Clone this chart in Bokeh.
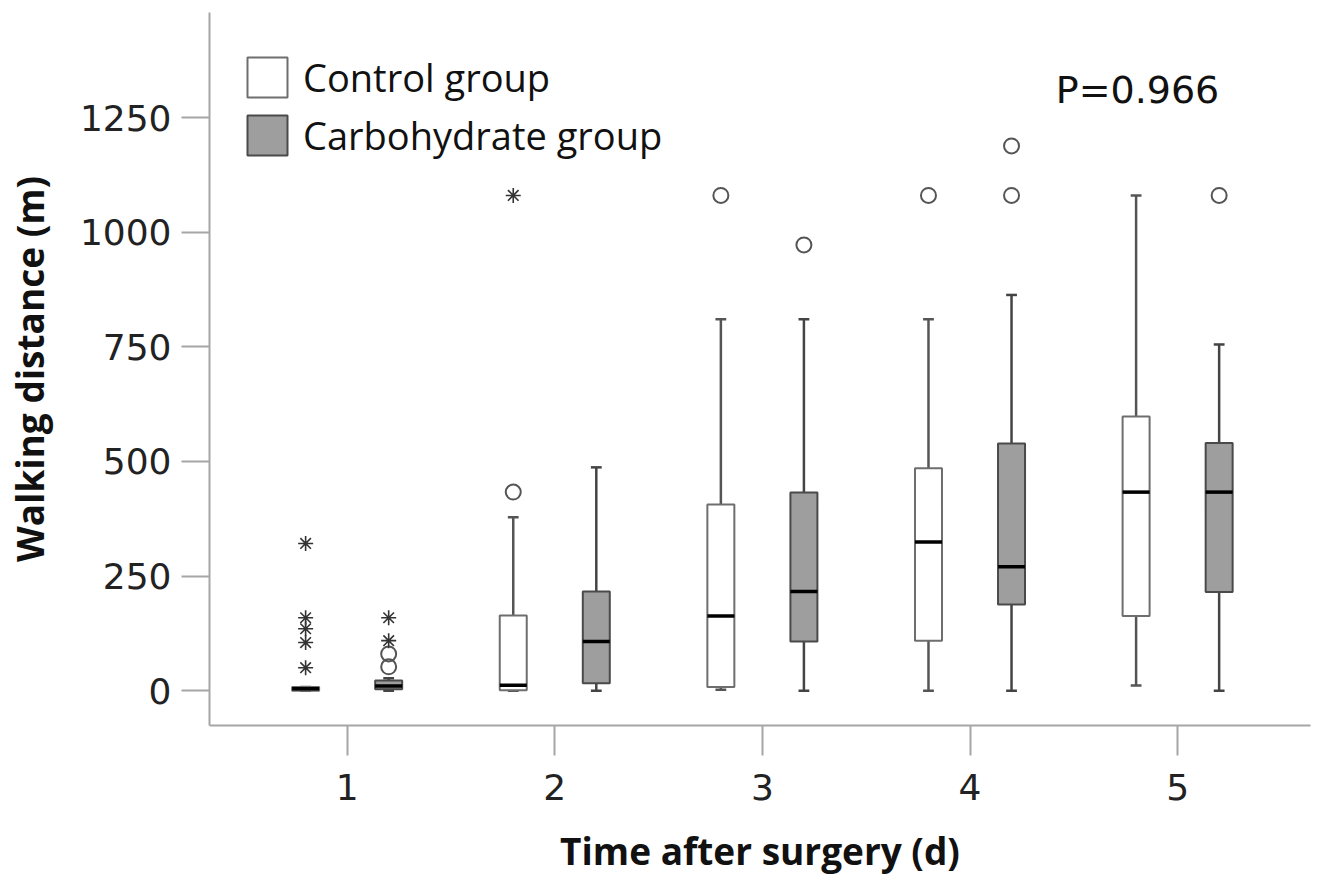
from bokeh.plotting import figure
from bokeh.models import Range1d, Legend, LegendItem, Label, FixedTicker
from bokeh.embed import file_html
from bokeh.resources import INLINE

# ---- data ----
days = [1, 2, 3, 4, 5]
ctrl_lo = [0, 0, 2, 0, 11]
ctrl_q1 = [0, 1, 8, 109, 163]
ctrl_med = [4, 12, 163, 324, 433]
ctrl_q3 = [8, 164, 406, 485, 598]
ctrl_hi = [8, 378, 810, 810, 1080]

carb_lo = [0, 0, 0, 0, 0]
carb_q1 = [3, 16, 107, 188, 215]
carb_med = [10, 107, 216, 270, 433]
carb_q3 = [22, 216, 432, 539, 540]
carb_hi = [27, 487, 810, 863, 755]

ctrl_circle_day = [2, 3, 4]
ctrl_circle_val = [433, 1080, 1080]
ctrl_star_day = [1, 1, 1, 1, 1, 2]
ctrl_star_val = [321, 159, 135, 105, 50, 1080]
carb_circle_day = [1, 1, 3, 4, 4, 5]
carb_circle_val = [80, 52, 972, 1080, 1188, 1080]
carb_star_day = [1, 1]
carb_star_val = [159, 109]

y_ticks = [0, 250, 500, 750, 1000, 1250]

OFFSET = 0.2
BOX_W = 0.13
CAP = 0.026

p = figure(width=1311, height=878, output_backend="svg", toolbar_location=None,
           x_range=Range1d(0.337, 5.64), y_range=Range1d(-76, 1479),
           min_border_left=207, min_border_right=1, min_border_top=12,
           min_border_bottom=153)
p.outline_line_color = None
p.grid.grid_line_color = None
p.background_fill_color = "white"

GRAY_FILL = "#9e9e9e"

def draw_group(xs, lo, q1, med, q3, hi, fill, edge, wcol):
    # whiskers
    p.segment(xs, q3, xs, hi, line_color=wcol, line_width=2.5)
    p.segment(xs, lo, xs, q1, line_color=wcol, line_width=2.5)
    p.segment([x - CAP for x in xs], hi, [x + CAP for x in xs], hi, line_color=wcol, line_width=2.5)
    p.segment([x - CAP for x in xs], lo, [x + CAP for x in xs], lo, line_color=wcol, line_width=2.5)
    r = p.vbar(x=xs, width=BOX_W, bottom=q1, top=q3, fill_color=fill,
               line_color=edge, line_width=2)
    p.segment([x - BOX_W / 2 for x in xs], med, [x + BOX_W / 2 for x in xs], med,
              line_color="black", line_width=3.5)
    return r

cx = [d - OFFSET for d in days]
gx = [d + OFFSET for d in days]
r_ctrl = draw_group(cx, ctrl_lo, ctrl_q1, ctrl_med, ctrl_q3, ctrl_hi, "white", "#6e6e6e", "#555555")
r_carb = draw_group(gx, carb_lo, carb_q1, carb_med, carb_q3, carb_hi, GRAY_FILL, "#4a4a4a", "#444444")

# outliers
p.scatter([d - OFFSET for d in ctrl_circle_day], ctrl_circle_val, marker="circle", size=15,
          fill_color=None, line_color="#555555", line_width=2)
p.scatter([d + OFFSET for d in carb_circle_day], carb_circle_val, marker="circle", size=15,
          fill_color=None, line_color="#555555", line_width=2)
p.scatter([d - OFFSET for d in ctrl_star_day], ctrl_star_val, marker="asterisk", size=15,
          line_color="#333333", line_width=1.6)
p.scatter([d + OFFSET for d in carb_star_day], carb_star_val, marker="asterisk", size=15,
          line_color="#333333", line_width=1.6)

# axes
AX = "#a6a6a6"
p.xaxis.ticker = FixedTicker(ticks=days)
p.yaxis.ticker = FixedTicker(ticks=y_ticks)
for ax in (p.xaxis[0], p.yaxis[0]):
    ax.axis_line_color = AX
    ax.axis_line_width = 2
    ax.major_tick_line_color = AX
    ax.major_tick_line_width = 2
    ax.minor_tick_line_color = None
    ax.major_tick_in = 0
    ax.major_label_text_font = "DejaVu Sans"
    ax.major_label_text_font_size = "36px"
    ax.major_label_text_color = "#222222"
    ax.axis_label_text_font = "Open Sans"
    ax.axis_label_text_font_style = "bold"
    ax.axis_label_text_font_size = "37px"
    ax.axis_label_text_color = "#111111"

p.xaxis.major_tick_out = 30
p.xaxis.major_label_standoff = 18
p.xaxis.axis_label = "Time after surgery (d)"
p.xaxis.axis_label_standoff = 22

p.yaxis.major_tick_out = 28
p.yaxis.major_label_standoff = 10
p.yaxis.axis_label = "Walking distance (m)"
p.yaxis.axis_label_standoff = 22

legend = Legend(items=[LegendItem(label="Control group", renderers=[r_ctrl]),
                       LegendItem(label="Carbohydrate group", renderers=[r_carb])],
                location=(33, 564), glyph_width=50, glyph_height=50, spacing=6,
                label_standoff=11, label_text_font="Open Sans", label_text_font_size="38px",
                label_text_color="#111111", padding=0, margin=0,
                border_line_color=None, background_fill_alpha=0, label_height=50)
p.add_layout(legend)

p.add_layout(Label(x=4.413, y=1309, text="P=0.966", text_font="DejaVu Sans",
                   text_font_size="38px", text_baseline="middle", text_color="#111111"))

open("out.html", "w").write(file_html(p, INLINE))
